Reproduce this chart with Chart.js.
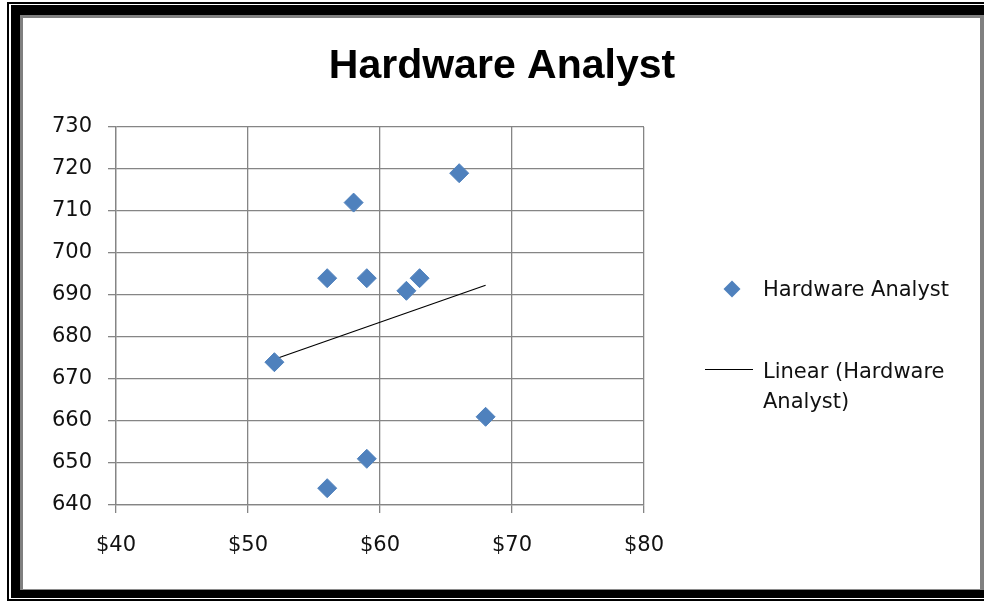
<!DOCTYPE html>
<html>
<head>
<meta charset="utf-8">
<script src="https://cdn.jsdelivr.net/npm/chart.js@4/dist/chart.umd.min.js"></script>
<style>
  html, body { margin: 0; padding: 0; background: #fff; overflow: hidden; }
  body { width: 984px; height: 602px; position: relative; }
  .rule-outer { position: absolute; left: 7px; top: 2px; width: 1000px; height: 599px; box-sizing: border-box; border: 2px solid #000; }
  .rule-thick { position: absolute; left: 11px; top: 5px; width: 1000px; height: 593px; background: #000; }
  .panel { position: absolute; left: 20px; top: 15px; width: 964px; height: 575px; box-sizing: border-box; background: #fff;
           border-left: 3px solid #808080; border-top: 3px solid #808080; border-right: 4px solid #808080; border-bottom: 1px solid #8a8a8a; }
  #chart { position: absolute; left: 0; top: 0; }
</style>
</head>
<body>
<div class="rule-outer"></div>
<div class="rule-thick"></div>
<div class="panel"></div>
<canvas id="chart" width="984" height="602"></canvas>
<script>
// Hourly rate ($) against score for each hardware analyst
const chartTitle = 'Hardware Analyst';
const seriesName = 'Hardware Analyst';
const trendName = ['Linear (Hardware', 'Analyst)'];
const hourlyRate = [52, 56, 56, 58, 59, 59, 62, 63, 66, 68];
const score      = [674, 694, 644, 712, 694, 651, 691, 694, 719, 661];
const xTickValues = [40, 50, 60, 70, 80];
const yTickValues = [640, 650, 660, 670, 680, 690, 700, 710, 720, 730];

const points = hourlyRate.map((x, i) => ({ x, y: score[i] }));

// Least-squares line through the points, drawn across the data's x range
function linearFit(xs, ys) {
  const n = xs.length;
  const mx = xs.reduce((a, b) => a + b, 0) / n;
  const my = ys.reduce((a, b) => a + b, 0) / n;
  let sxy = 0, sxx = 0;
  xs.forEach((x, i) => { sxy += (x - mx) * (ys[i] - my); sxx += (x - mx) * (x - mx); });
  const slope = sxy / sxx;
  return x => my + slope * (x - mx);
}
const fit = linearFit(hourlyRate, score);
const xLo = Math.min(...hourlyRate), xHi = Math.max(...hourlyRate);
const trendPoints = [{ x: xLo, y: fit(xLo) }, { x: xHi, y: fit(xHi) }];

const MARKER = '#4F81BD';
const GRID = '#858585';
const FONT = 'DejaVu Sans, sans-serif';

function diamond(ctx, cx, cy, r) {
  ctx.beginPath();
  ctx.moveTo(cx, cy - r);
  ctx.lineTo(cx + r, cy);
  ctx.lineTo(cx, cy + r);
  ctx.lineTo(cx - r, cy);
  ctx.closePath();
  ctx.fill();
}

// Title and legend, placed in the canvas' free space
const decorations = {
  id: 'decorations',
  afterDraw(chart) {
    const ctx = chart.ctx;
    ctx.save();
    ctx.fillStyle = '#000';
    ctx.textBaseline = 'alphabetic';
    ctx.font = 'bold 41px "Liberation Sans", Arial, sans-serif';
    ctx.textAlign = 'center';
    ctx.fillText(chartTitle, 502, 78);

    ctx.textAlign = 'left';
    ctx.font = '21px ' + FONT;
    ctx.fillStyle = MARKER;
    diamond(ctx, 732, 289, 8.5);
    ctx.fillStyle = '#111';
    ctx.fillText(seriesName, 763, 296);

    ctx.strokeStyle = '#000';
    ctx.lineWidth = 1;
    ctx.beginPath();
    ctx.moveTo(705, 369.5);
    ctx.lineTo(753, 369.5);
    ctx.stroke();
    ctx.fillText(trendName[0], 763, 378);
    ctx.fillText(trendName[1], 763, 408);
    ctx.restore();
  }
};

new Chart(document.getElementById('chart'), {
  type: 'scatter',
  data: {
    datasets: [
      {
        label: seriesName,
        data: points,
        pointStyle: 'rectRot',
        pointRadius: 9.5,
        pointHoverRadius: 9.5,
        backgroundColor: MARKER,
        borderColor: MARKER,
        borderWidth: 1,
        order: 1
      },
      {
        type: 'line',
        label: trendName.join(' '),
        data: trendPoints,
        borderColor: '#000',
        borderWidth: 1.2,
        pointRadius: 0,
        fill: false,
        order: 2
      }
    ]
  },
  options: {
    responsive: false,
    animation: false,
    events: [],
    layout: { padding: { left: 0, right: 340, top: 127, bottom: 41 } },
    plugins: {
      legend: { display: false },
      title: { display: false },
      tooltip: { enabled: false }
    },
    scales: {
      x: {
        type: 'linear',
        min: xTickValues[0],
        max: xTickValues[xTickValues.length - 1],
        afterBuildTicks: s => { s.ticks = xTickValues.map(v => ({ value: v })); },
        afterFit: s => { s.height = 56; },
        grid: { color: GRID, lineWidth: 1.3, tickLength: 8, drawTicks: true },
        border: { color: GRID, width: 1.3 },
        ticks: {
          color: '#111',
          font: { family: FONT, size: 21 },
          padding: 20,
          maxRotation: 0,
          callback: v => '$' + v
        }
      },
      y: {
        type: 'linear',
        min: yTickValues[0],
        max: yTickValues[yTickValues.length - 1],
        afterBuildTicks: s => { s.ticks = yTickValues.map(v => ({ value: v })); },
        afterFit: s => { s.width = 116; },
        grid: { color: GRID, lineWidth: 1.3, tickLength: 8, drawTicks: true },
        border: { color: GRID, width: 1.3 },
        ticks: {
          color: '#111',
          font: { family: FONT, size: 21 },
          padding: 16
        }
      }
    }
  },
  plugins: [decorations]
});
</script>
</body>
</html>
